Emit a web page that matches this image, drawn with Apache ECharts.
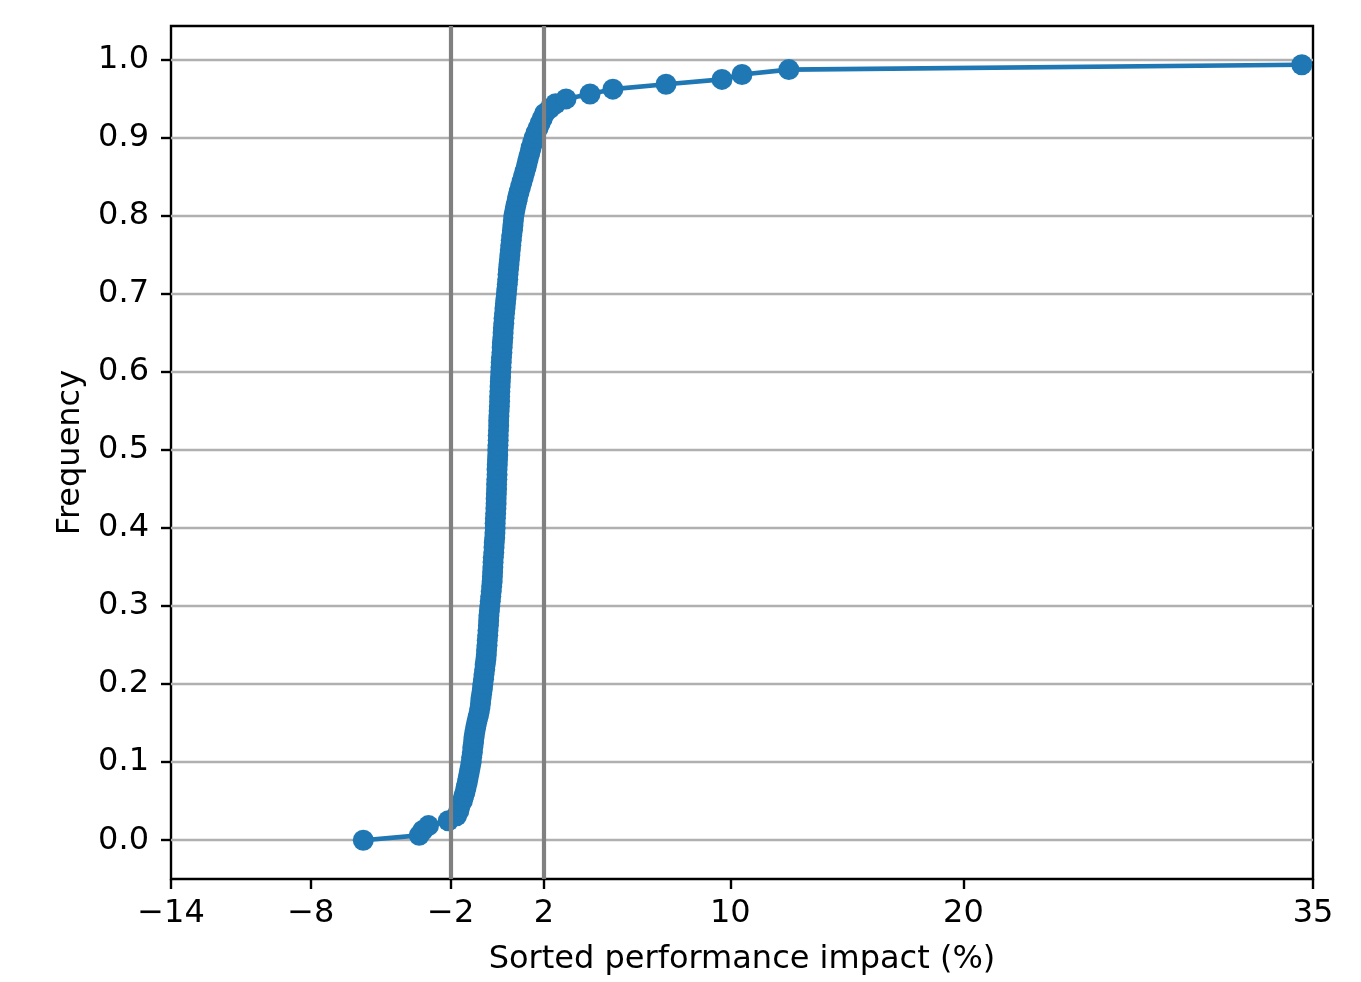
<!DOCTYPE html>
<html>
<head>
<meta charset="utf-8">
<script src="https://cdn.jsdelivr.net/npm/echarts@6/dist/echarts.min.js"></script>
<style>
  html, body { margin: 0; padding: 0; background: #ffffff; }
  #chart { width: 1361px; height: 982px; }
</style>
</head>
<body>
<div id="chart"></div>
<script>
// ---- data ----
const xTickValues = [-14, -8, -2, 2, 10, 20, 35];
const yTickValues = [0, 0.1, 0.2, 0.3, 0.4, 0.5, 0.6, 0.7, 0.8, 0.9, 1.0];
const referenceLines = [-2, 2];

const impact = [
  -5.75, -3.35, -3.20, -2.95, -2.10, -1.75, -1.65, -1.60, -1.50, -1.44, -1.38, -1.33, -1.28, -1.24, -1.20, -1.16,
  -1.12, -1.10, -1.07, -1.05, -1.02, -1.00, -0.97, -0.93, -0.89, -0.84, -0.79, -0.75, -0.72, -0.70, -0.67, -0.64,
  -0.62, -0.59, -0.57, -0.54, -0.52, -0.49, -0.47, -0.46, -0.44, -0.43, -0.41, -0.40, -0.38, -0.37, -0.36, -0.34,
  -0.32, -0.30, -0.28, -0.26, -0.24, -0.22, -0.21, -0.20, -0.19, -0.18, -0.17, -0.15, -0.14, -0.13, -0.11, -0.10,
  -0.09, -0.09, -0.08, -0.07, -0.06, -0.05, -0.05, -0.04, -0.03, -0.03, -0.02, -0.01, -0.01, 0.00, 0.01, 0.02,
  0.02, 0.03, 0.04, 0.04, 0.05, 0.06, 0.06, 0.07, 0.08, 0.09, 0.10, 0.10, 0.11, 0.12, 0.13, 0.14,
  0.15, 0.16, 0.17, 0.18, 0.20, 0.21, 0.22, 0.24, 0.25, 0.26, 0.28, 0.29, 0.31, 0.33, 0.35, 0.37,
  0.39, 0.41, 0.43, 0.45, 0.46, 0.48, 0.50, 0.52, 0.54, 0.56, 0.58, 0.60, 0.62, 0.65, 0.67, 0.69,
  0.71, 0.75, 0.79, 0.84, 0.88, 0.94, 1.00, 1.06, 1.12, 1.18, 1.24, 1.29, 1.34, 1.40, 1.45, 1.52,
  1.58, 1.66, 1.75, 1.84, 1.93, 2.03, 2.25, 2.50, 2.95, 3.98, 4.96, 7.24, 9.64, 10.50, 12.51, 34.52
];

const frequency = [
  0, 0.00625, 0.0125, 0.01875, 0.025, 0.03125, 0.0375, 0.04375, 0.05, 0.05625, 0.0625, 0.06875, 0.075, 0.08125, 0.0875, 0.09375,
  0.1, 0.10625, 0.1125, 0.11875, 0.125, 0.13125, 0.1375, 0.14375, 0.15, 0.15625, 0.1625, 0.16875, 0.175, 0.18125, 0.1875, 0.19375,
  0.2, 0.20625, 0.2125, 0.21875, 0.225, 0.23125, 0.2375, 0.24375, 0.25, 0.25625, 0.2625, 0.26875, 0.275, 0.28125, 0.2875, 0.29375,
  0.3, 0.30625, 0.3125, 0.31875, 0.325, 0.33125, 0.3375, 0.34375, 0.35, 0.35625, 0.3625, 0.36875, 0.375, 0.38125, 0.3875, 0.39375,
  0.4, 0.40625, 0.4125, 0.41875, 0.425, 0.43125, 0.4375, 0.44375, 0.45, 0.45625, 0.4625, 0.46875, 0.475, 0.48125, 0.4875, 0.49375,
  0.5, 0.50625, 0.5125, 0.51875, 0.525, 0.53125, 0.5375, 0.54375, 0.55, 0.55625, 0.5625, 0.56875, 0.575, 0.58125, 0.5875, 0.59375,
  0.6, 0.60625, 0.6125, 0.61875, 0.625, 0.63125, 0.6375, 0.64375, 0.65, 0.65625, 0.6625, 0.66875, 0.675, 0.68125, 0.6875, 0.69375,
  0.7, 0.70625, 0.7125, 0.71875, 0.725, 0.73125, 0.7375, 0.74375, 0.75, 0.75625, 0.7625, 0.76875, 0.775, 0.78125, 0.7875, 0.79375,
  0.8, 0.80625, 0.8125, 0.81875, 0.825, 0.83125, 0.8375, 0.84375, 0.85, 0.85625, 0.8625, 0.86875, 0.875, 0.88125, 0.8875, 0.89375,
  0.9, 0.90625, 0.9125, 0.91875, 0.925, 0.93125, 0.9375, 0.94375, 0.95, 0.95625, 0.9625, 0.96875, 0.975, 0.98125, 0.9875, 0.99375
];

const xAxisTitle = 'Sorted performance impact (%)';
const yAxisTitle = 'Frequency';

// ---- chart ----
const FONT = "'DejaVu Sans', 'Liberation Sans', sans-serif";
const FS = 32;
const points = impact.map((x, i) => [x, frequency[i]]);

const chart = echarts.init(document.getElementById('chart'), null, { renderer: 'canvas' });
chart.setOption({
  animation: false,
  backgroundColor: '#ffffff',
  grid: {
    left: 171, top: 26, width: 1142, height: 853,
    show: true, borderColor: '#000000', borderWidth: 2.4, backgroundColor: 'transparent'
  },
  xAxis: {
    type: 'value',
    min: -14, max: 35,
    position: 'bottom',
    name: xAxisTitle,
    nameLocation: 'middle',
    nameGap: 65,
    nameTextStyle: { color: '#000', fontSize: FS, fontFamily: FONT },
    axisLine: { show: false, onZero: false },
    axisTick: { show: true, inside: false, length: 10, customValues: xTickValues,
      lineStyle: { color: '#000', width: 2.4 } },
    axisLabel: { show: true, customValues: xTickValues, margin: 19, color: '#000', fontSize: FS, fontFamily: FONT,
      formatter: v => (v < 0 ? '\u2212' + Math.abs(v) : String(v)) },
    splitLine: { show: false }
  },
  yAxis: {
    type: 'value',
    min: -0.0497, max: 1.0434,
    position: 'left',
    name: yAxisTitle,
    nameLocation: 'middle',
    nameGap: 84,
    nameRotate: 90,
    nameTextStyle: { color: '#000', fontSize: FS, fontFamily: FONT },
    axisLine: { show: false, onZero: false },
    axisTick: { show: true, inside: false, length: 10, customValues: yTickValues,
      lineStyle: { color: '#000', width: 2.4 } },
    axisLabel: { show: true, customValues: yTickValues, margin: 22, color: '#000', fontSize: FS, fontFamily: FONT,
      formatter: v => v.toFixed(1) },
    splitLine: { show: true, lineStyle: { color: '#b0b0b0', width: 2.4 } }
  },
  series: [
    {
      type: 'line',
      data: points,
      z: 2,
      symbol: 'circle',
      symbolSize: 21,
      showSymbol: true,
      showAllSymbol: true,
      itemStyle: { color: '#1f77b4' },
      lineStyle: { color: '#1f77b4', width: 4.6 },
      emphasis: { disabled: true }
    },
    {
      type: 'line',
      data: [],
      z: 5,
      markLine: {
        silent: true,
        symbol: ['none', 'none'],
        label: { show: false },
        lineStyle: { color: '#808080', width: 4.2, type: 'solid' },
        data: referenceLines.map(v => ({ xAxis: v }))
      }
    }
  ]
});
</script>
</body>
</html>
